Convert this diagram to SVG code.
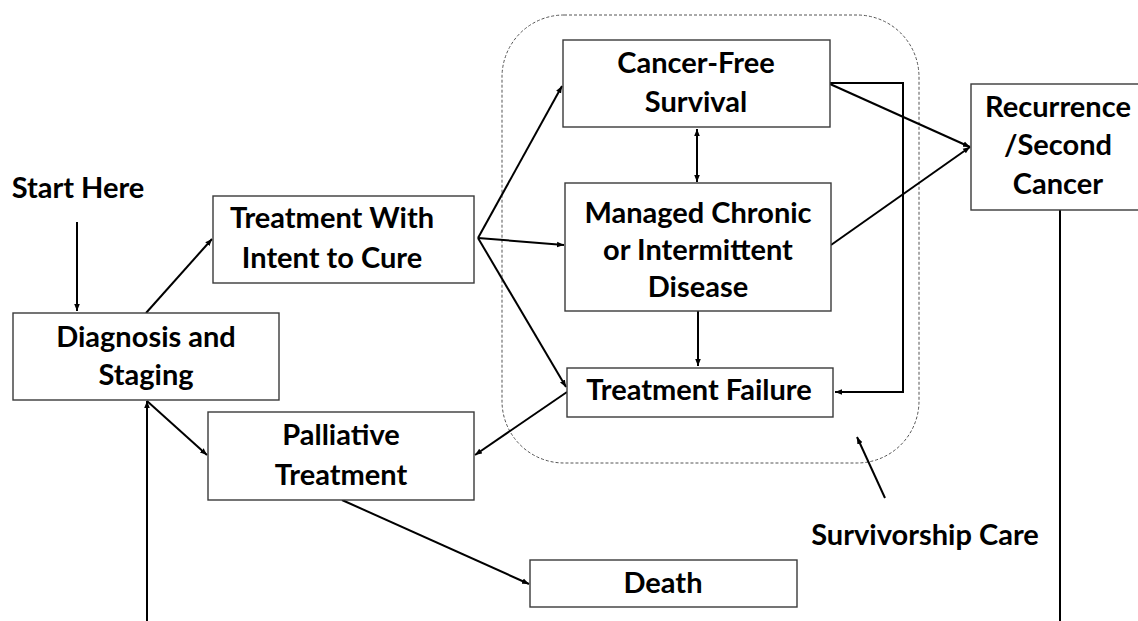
<svg xmlns="http://www.w3.org/2000/svg" width="1138" height="621" viewBox="0 0 1138 621">
<style>
.box{fill:#fff;stroke:#3a3a3a;stroke-width:1.4}
.t{font-family:Lato,"Liberation Sans",sans-serif;font-weight:bold;font-size:29px;fill:#000;text-anchor:middle}
.c{fill:none;stroke:#000;stroke-width:2}
</style>
<defs>
<marker id="ah" viewBox="0 0 10 10" refX="10" refY="5" markerWidth="7" markerHeight="7" orient="auto-start-reverse" markerUnits="userSpaceOnUse">
<path d="M0,1 L10,5 L0,9 Z" fill="#000"/>
</marker>
</defs>
<rect x="502" y="15" width="417" height="448" rx="62" fill="none" stroke="#555" stroke-width="1" stroke-dasharray="3,2"/>
<g id="connectors">
<line class="c" x1="77" y1="222" x2="77" y2="311" marker-end="url(#ah)"/>
<line class="c" x1="146" y1="313" x2="212" y2="239" marker-end="url(#ah)"/>
<line class="c" x1="478" y1="238" x2="562" y2="86" marker-end="url(#ah)"/>
<line class="c" x1="478" y1="238" x2="564" y2="245" marker-end="url(#ah)"/>
<line class="c" x1="478" y1="238" x2="566" y2="387" marker-end="url(#ah)"/>
<line class="c" x1="697" y1="129" x2="697" y2="182" marker-start="url(#ah)" marker-end="url(#ah)"/>
<line class="c" x1="698" y1="311" x2="698" y2="366" marker-end="url(#ah)"/>
<polyline class="c" points="830,83 903,83 903,392 835,392" marker-end="url(#ah)"/>
<line class="c" x1="830" y1="84" x2="970" y2="147" marker-end="url(#ah)"/>
<line class="c" x1="831" y1="245" x2="970" y2="147" marker-end="url(#ah)"/>
<line class="c" x1="1060" y1="210" x2="1060" y2="621"/>
<line class="c" x1="567" y1="392" x2="475" y2="455" marker-end="url(#ah)"/>
<line class="c" x1="147" y1="401" x2="207" y2="455" marker-end="url(#ah)"/>
<line class="c" x1="147" y1="621" x2="147" y2="401" marker-end="url(#ah)"/>
<line class="c" x1="342" y1="500" x2="529" y2="584" marker-end="url(#ah)"/>
<line class="c" x1="885" y1="498" x2="857" y2="437" marker-end="url(#ah)"/>
</g>
<g id="start"><text class="t" x="78" y="198">Start Here</text></g>
<g id="diagnosis"><rect class="box" x="13" y="313" width="266" height="87"/><text class="t" x="146" y="347">Diagnosis and</text><text class="t" x="146" y="385">Staging</text></g>
<g id="cure"><rect class="box" x="213" y="196" width="261" height="87"/><text class="t" x="332" y="228">Treatment With</text><text class="t" x="332" y="268">Intent to Cure</text></g>
<g id="cancerfree"><rect class="box" x="563" y="40" width="267" height="87"/><text class="t" x="696" y="73">Cancer-Free</text><text class="t" x="696" y="112">Survival</text></g>
<g id="managed"><rect class="box" x="565" y="183" width="266" height="128"/><text class="t" x="698" y="223">Managed Chronic</text><text class="t" x="698" y="260">or Intermittent</text><text class="t" x="698" y="297">Disease</text></g>
<g id="failure"><rect class="box" x="567" y="368" width="266" height="49"/><text class="t" x="699" y="400">Treatment Failure</text></g>
<g id="recurrence"><rect class="box" x="971" y="84" width="180" height="126"/><text class="t" x="1058" y="117">Recurrence</text><text class="t" x="1058" y="155">/Second</text><text class="t" x="1058" y="194">Cancer</text></g>
<g id="palliative"><rect class="box" x="208" y="412" width="266" height="88"/><text class="t" x="341" y="445">Palliative</text><text class="t" x="341" y="485">Treatment</text></g>
<g id="death"><rect class="box" x="530" y="560" width="267" height="47"/><text class="t" x="663" y="593">Death</text></g>
<g id="survivorship"><text class="t" x="925" y="545">Survivorship Care</text></g>
</svg>
